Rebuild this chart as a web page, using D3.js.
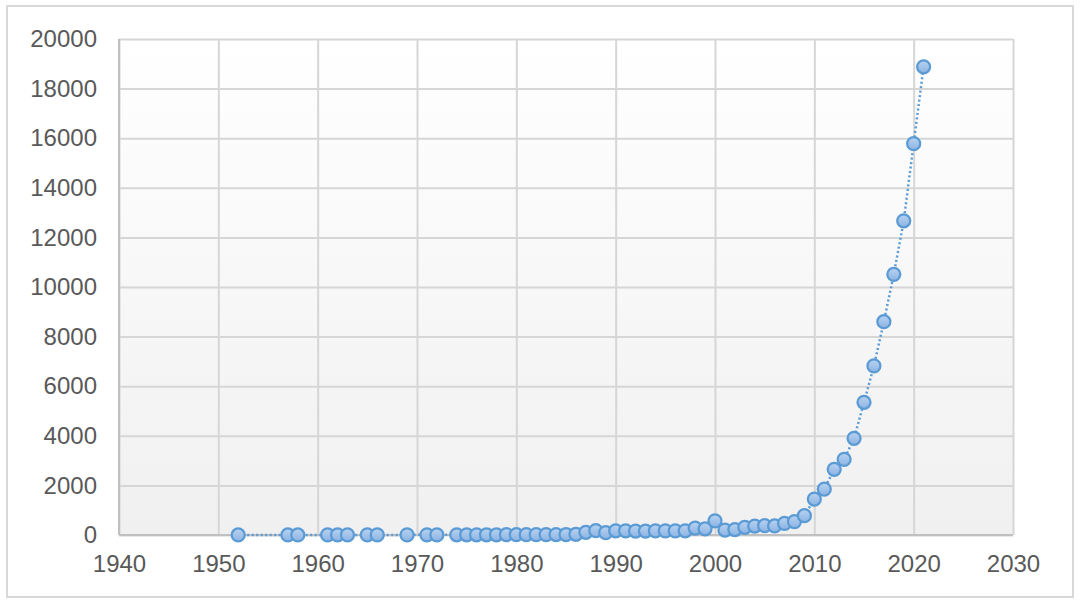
<!DOCTYPE html>
<html>
<head>
<meta charset="utf-8">
<script src="https://cdn.jsdelivr.net/npm/d3@7"></script>
<style>
  body { margin: 0; background: #fff; }
  svg { display: block; font-family: 'Liberation Sans', Arial, sans-serif; }
  .tick text { fill: #595959; font-size: 24px; }
</style>
</head>
<body>
<div id="container"></div>
<script>
const years = [
  1952, 1957, 1958, 1961, 1962, 1963, 1965, 1966, 1969, 1971, 1972,
  1974, 1975, 1976, 1977, 1978, 1979, 1980, 1981, 1982, 1983, 1984, 1985,
  1986, 1987, 1988, 1989, 1990, 1991, 1992, 1993, 1994, 1995, 1996, 1997,
  1998, 1999, 2000, 2001, 2002, 2003, 2004, 2005, 2006, 2007, 2008, 2009,
  2010, 2011, 2012, 2013, 2014, 2015, 2016, 2017, 2018, 2019, 2020, 2021
];
const counts = [
  1, 2, 2, 3, 3, 3, 4, 4, 5, 6, 6,
  8, 8, 9, 10, 10, 12, 12, 14, 15, 16, 18, 20,
  30, 110, 175, 95, 170, 170, 160, 160, 165, 165, 165, 170,
  280, 250, 570, 200, 220, 310, 360, 375, 365, 470, 540, 780,
  1450, 1850, 2650, 3050, 3900, 5350, 6820, 8600, 10510, 12670, 15780, 18880
];
const xTicks = [1940, 1950, 1960, 1970, 1980, 1990, 2000, 2010, 2020, 2030];
const yTicks = [0, 2000, 4000, 6000, 8000, 10000, 12000, 14000, 16000, 18000, 20000];

const w = 1080,
  h = 603,
  plotLeft = 119,
  plotRight = 1013,
  plotTop = 39,
  plotBottom = 535;

const svg = d3.select('#container').append('svg').attr('width', w).attr('height', h);

const defs = svg.append('defs');
const bg = defs
  .append('linearGradient')
  .attr('id', 'bg')
  .attr('x1', 0)
  .attr('y1', 0)
  .attr('x2', 0)
  .attr('y2', 1);
bg.append('stop').attr('offset', '0%').attr('stop-color', '#ffffff');
bg.append('stop').attr('offset', '100%').attr('stop-color', '#f0f0f0');

const dot = defs
  .append('linearGradient')
  .attr('id', 'dot')
  .attr('x1', 0)
  .attr('y1', 0)
  .attr('x2', 0)
  .attr('y2', 1);
dot.append('stop').attr('offset', '0%').attr('stop-color', '#b9d3f1');
dot.append('stop').attr('offset', '100%').attr('stop-color', '#8cb3e2');

// outer frame
svg
  .append('rect')
  .attr('x', 7)
  .attr('y', 6)
  .attr('width', 1066)
  .attr('height', 591)
  .attr('fill', '#fff')
  .attr('stroke', '#d9d9d9')
  .attr('stroke-width', 2);

const xScale = d3.scaleLinear().domain([1940, 2030]).range([plotLeft, plotRight]);
const yScale = d3.scaleLinear().domain([0, 20000]).range([plotBottom, plotTop]);

svg
  .append('rect')
  .attr('x', plotLeft)
  .attr('y', plotTop)
  .attr('width', plotRight - plotLeft)
  .attr('height', plotBottom - plotTop)
  .attr('fill', 'url(#bg)');

// grid
const xGrid = svg
  .append('g')
  .attr('transform', 'translate(0, ' + plotBottom + ')')
  .call(d3.axisBottom(xScale).tickValues(xTicks).tickSize(-(plotBottom - plotTop)).tickFormat(''));
const yGrid = svg
  .append('g')
  .attr('transform', 'translate(' + plotLeft + ', 0)')
  .call(d3.axisLeft(yScale).tickValues(yTicks).tickSize(-(plotRight - plotLeft)).tickFormat(''));
[xGrid, yGrid].forEach((g) => {
  g.select('.domain').remove();
  g.selectAll('line').attr('stroke', '#d6d6d6').attr('stroke-width', 2);
});

// axis lines
svg
  .append('line')
  .attr('x1', plotLeft)
  .attr('x2', plotLeft)
  .attr('y1', plotTop)
  .attr('y2', plotBottom)
  .attr('stroke', '#c0c0c0')
  .attr('stroke-width', 2);
svg
  .append('line')
  .attr('x1', plotLeft)
  .attr('x2', plotRight)
  .attr('y1', plotBottom)
  .attr('y2', plotBottom)
  .attr('stroke', '#c0c0c0')
  .attr('stroke-width', 2);

// labels
const yAxis = svg
  .append('g')
  .attr('transform', 'translate(' + plotLeft + ', 0)')
  .call(d3.axisLeft(yScale).tickValues(yTicks).tickSize(0).tickPadding(22).tickFormat(d3.format('d')));
const xAxis = svg
  .append('g')
  .attr('transform', 'translate(0, ' + plotBottom + ')')
  .call(d3.axisBottom(xScale).tickValues(xTicks).tickSize(0).tickPadding(20).tickFormat(d3.format('d')));
[xAxis, yAxis].forEach((g) => {
  g.select('.domain').remove();
  g.attr('font-family', null).attr('font-size', null);
});

const data = years.map((y, i) => ({ year: y, value: counts[i] }));

const line = d3
  .line()
  .x((d) => xScale(d.year))
  .y((d) => yScale(d.value));

svg
  .append('path')
  .datum(data)
  .attr('d', line)
  .attr('fill', 'none')
  .attr('stroke', '#5b9bd5')
  .attr('stroke-width', 2.5)
  .attr('stroke-dasharray', '2,2.5');

svg
  .selectAll('circle.dot')
  .data(data)
  .enter()
  .append('circle')
  .attr('class', 'dot')
  .attr('cx', (d) => xScale(d.year))
  .attr('cy', (d) => yScale(d.value))
  .attr('r', 6.5)
  .attr('fill', 'url(#dot)')
  .attr('stroke', '#5b9bd5')
  .attr('stroke-width', 2.25);
</script>
</body>
</html>
